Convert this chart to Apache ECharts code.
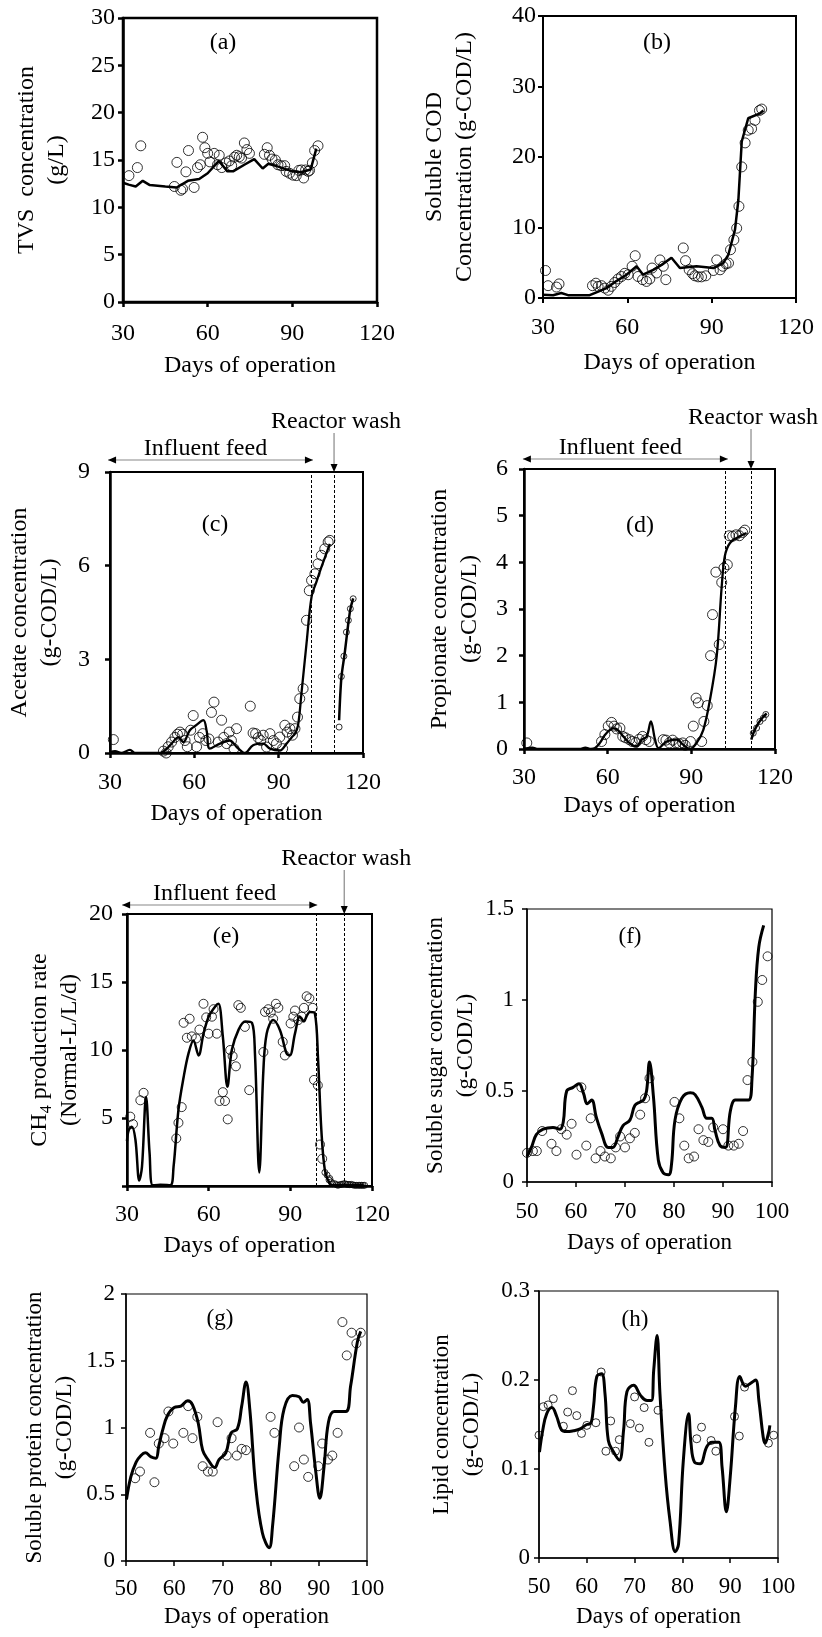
<!DOCTYPE html>
<html>
<head>
<meta charset="utf-8">
<script src="https://cdn.jsdelivr.net/npm/echarts@6/dist/echarts.min.js"></script>
<style>
html,body{margin:0;padding:0;background:#fff;}
#chart{width:822px;height:1637px;}
</style>
</head>
<body>
<div id="chart"></div>
<script>
// ---------------- DATA ----------------
// (a) TVS concentration (g/L)
const tvsModel = [[30,12.6],[32,12.4],[34.5,12.2],[37,12.8],[39.5,12.35],[45,12.2],[49,12.1],[53,12.8],[57,13.0],[60,13.6],[64,14.9],[67,13.8],[69,13.8],[73,14.5],[76.5,15.1],[79.5,14.1],[81.5,14.6],[85,14.3],[90,13.8],[93,13.7],[96.5,14.0],[98.5,16.2]];
const tvsObs = [[32.1,13.35],[35.1,14.2],[36.3,16.5],[48.2,12.2],[49.1,14.75],[50.5,11.8],[51.1,11.95],[52.3,13.75],[53.2,16.0],[55.2,12.1],[56.4,14.2],[57.4,14.5],[58.2,17.4],[59,16.3],[60,15.7],[60.8,14.8],[62.3,15.7],[63.5,14.5],[64.1,15.5],[65,14.2],[66.5,14.7],[67.7,14.9],[68.5,14.4],[69.5,15.3],[70.3,15.5],[71.2,15.35],[72,15.2],[73,16.8],[73.9,16.1],[74.8,15.7],[80.1,15.6],[81.1,16.3],[81.9,15.5],[82.8,15.1],[84,15.0],[84.9,14.5],[86,14.4],[87.3,14.4],[87.8,13.8],[89,13.6],[90.2,13.4],[91.4,13.35],[92.3,13.9],[93.2,13.95],[94,13.1],[94.7,13.95],[95.6,13.8],[96.1,13.9],[97.1,14.7],[97.9,16.0],[99.1,16.5]];

// (b) Soluble COD (g-COD/L)
const codModel = [[30,0.45],[33.6,0.4],[36.5,0.7],[38.9,0.4],[46.6,0.4],[49,0.8],[52.6,1.4],[56.1,2.4],[59.7,3.3],[63.3,4.5],[65.6,3.3],[69.2,4.0],[72.2,4.7],[75.7,5.7],[78.7,4.25],[84.6,4.5],[90.6,4.25],[94.1,4.95],[95.9,6.1],[98.3,9.7],[99.5,13.9],[100.7,22.2],[103,25.5],[107.2,26.2],[108.4,26.6]];
const codObs = [[30.9,3.9],[31.8,1.75],[34.8,1.55],[35.7,2.0],[47.6,1.75],[48.8,2.1],[49.6,1.65],[50.8,1.75],[52,1.4],[53.2,1.1],[54.3,1.65],[55.5,2.2],[56.7,2.7],[57.9,3.05],[59.1,3.5],[60.3,3.3],[61.7,4.5],[62.8,6.0],[63.8,3.05],[65.4,2.6],[66.8,2.35],[68,2.7],[68.8,4.25],[70.4,3.55],[71.6,5.4],[72.8,4.5],[73.7,2.6],[79.9,7.1],[80.7,5.3],[82,4.0],[83.2,3.45],[84,3.15],[85.2,3.0],[86.4,3.0],[87.9,3.15],[90.6,3.9],[91.8,5.4],[93,4.0],[94,4.5],[95.1,4.85],[96,4.95],[96.7,6.85],[97.9,8.25],[98.9,9.9],[99.7,13.0],[100.7,18.6],[101.9,22.0],[103,23.8],[104.2,24.0],[105.4,25.2],[107,26.6],[107.8,26.8]];

// (c) Acetate (g-COD/L)
const acetModelFeed = [[30,0.03],[31.8,0.06],[34,0],[37.1,0.1],[38.9,0],[47.8,0],[49.5,0.08],[51.9,0.3],[54.3,0.5],[56.1,0.35],[58.4,0.73],[60.8,0.9],[63.2,1.05],[64.4,0.7],[65.5,0.14],[69.1,0.3],[72.6,0.4],[75,0.2],[78,0],[80.9,0.25],[84.5,0.3],[86.9,0.14],[90.4,0.08],[92.8,0.3],[94.6,0.5],[95.8,0.62],[96.9,0.89],[98.1,1.9],[99.9,3.5],[101.7,5.0],[103.5,5.5],[105.2,5.95],[108.2,6.7]];
const acetModelWash = [[111.5,1.05],[112.3,2.4],[113.5,3.2],[114.7,4.1],[115.5,4.6],[116.5,4.95]];
const acetObsFeed = [[31.2,0.43],[49,0.06],[50,0],[50.7,0.2],[51.9,0.35],[53.1,0.5],[54,0.6],[54.9,0.67],[55.8,0.6],[56.7,0.4],[57.5,0.2],[58.7,0.73],[59.6,1.2],[60.8,0.2],[61.8,0.5],[63,0.62],[64.1,0.4],[65.2,0.45],[66.1,1.3],[67,1.63],[68.5,0.35],[69.7,1.05],[70.5,0.5],[71.5,0.3],[72.4,0.67],[73.2,0.4],[74.1,0.14],[75,0.78],[79.9,1.5],[80.9,0.64],[81.8,0.62],[82.7,0.49],[83.6,0.4],[84.5,0.57],[85.7,0.19],[86.9,0.62],[88.1,0.4],[89.2,0.3],[90.4,0.51],[91.4,0.14],[92.2,0.89],[93,0.67],[94,0.78],[94.9,0.57],[95.8,0.78],[96.7,1.15],[97.5,1.74],[98.7,2.06],[99.9,4.25],[100.9,5.2],[101.7,5.53],[102.9,5.74],[104,6.06],[105.2,6.33],[106.4,6.54],[107.6,6.76],[108.2,6.81]];
const acetObsWash = [[111.5,0.83],[112.3,2.45],[113.2,3.1],[114.1,3.87],[114.8,4.25],[115.5,4.62],[116.5,4.94]];

// (d) Propionate (g-COD/L)
const propModelFeed = [[30,0],[33,0.03],[35,0],[50,0],[52,0.03],[54,0],[55.5,0.02],[57.2,0.13],[59,0.3],[60.8,0.41],[62,0.44],[63.2,0.43],[65.6,0.27],[68.6,0.09],[70.4,0.06],[72.2,0.2],[74,0.27],[75.5,0.59],[77,0.2],[78.2,0.02],[81.1,0.16],[84.7,0.2],[87.1,0.09],[89.5,0],[91.9,0.13],[94.3,0.41],[96.7,1.06],[99.1,1.99],[100.9,3.49],[102,4.13],[103.8,4.41],[107.4,4.56],[109.8,4.63]];
const propModelWash = [[111.5,0.2],[112.5,0.38],[114,0.55],[115.5,0.67],[117,0.76]];
const propObsFeed = [[31,0.13],[57.8,0.16],[59,0.31],[60.2,0.49],[61.4,0.57],[62.3,0.49],[63.2,0.43],[64.4,0.45],[65.4,0.27],[66.4,0.24],[67.8,0.2],[68.8,0.16],[70.1,0.14],[71.3,0.21],[72.5,0.27],[73.7,0.2],[74.9,0.16],[79.9,0.2],[80.9,0.19],[82.1,0.13],[83.3,0.19],[84.5,0.13],[85.7,0.11],[86.9,0.13],[87.8,0.08],[89.7,0.16],[90.7,0.49],[91.7,1.09],[92.5,0.99],[93.7,0.16],[94.5,0.59],[95.7,0.93],[96.9,2.0],[97.6,2.88],[98.8,3.79],[100,2.24],[100.9,3.57],[101.7,3.88],[102.9,3.95],[103.6,4.57],[104.8,4.56],[106,4.59],[107.2,4.57],[108.4,4.64],[109.2,4.69]];
const propObsWash = [[112.2,0.34],[113.4,0.45],[114.6,0.59],[115.8,0.66],[116.7,0.74]];

// (e) CH4 production rate (Normal-L/L/d)
const ch4Model = [[30,3.3],[30.6,4.1],[31.8,4.35],[33.1,3.4],[34.5,0.4],[35.5,1.4],[37,6.55],[38.3,2.4],[39.5,0.05],[42.2,0.1],[45.9,0.05],[47.1,1.4],[48.9,5.6],[50.8,8.0],[52.6,9.75],[54.4,10.7],[56.3,9.6],[58.1,11.2],[60,12.45],[62.4,13.2],[63.6,13.4],[65.2,11],[66.9,7.3],[68.5,10],[71,11.5],[73.4,12.1],[75.9,12],[77,9.75],[78.6,1.0],[80.1,8.5],[81.3,11.2],[83.7,12.2],[86.2,11.45],[88.6,9.75],[89.8,9.6],[91.7,11.2],[93.5,12.45],[95,12.1],[96,12.5],[97.2,12.8],[99,12.7],[100.2,9.25],[101.4,4.1],[102.7,1.15],[104.5,0.15],[105.7,0.05],[117,0.05]];
const ch4Obs = [[31.2,5.1],[32.2,4.55],[34.9,6.3],[36.1,6.85],[48.1,3.5],[48.9,4.65],[50.1,5.8],[50.8,12.0],[52,10.9],[53,12.3],[53.8,11.0],[55.4,10.85],[56.6,11.5],[58.1,13.4],[59.1,12.4],[60,11.2],[61.2,12.45],[61.8,13.0],[63,11.2],[64,6.25],[65.2,6.9],[66,6.25],[67,4.9],[67.9,10],[68.8,9.55],[70,8.8],[70.9,13.3],[71.8,13.1],[73.3,11.7],[74.9,7.05],[80.1,9.85],[80.7,12.8],[81.9,13.0],[82.8,12.75],[83.7,12.3],[84.7,13.4],[85.6,13.1],[87.2,10.6],[88,9.6],[90.1,11.95],[91.1,12.45],[91.7,12.9],[92.9,12.2],[94.2,12.45],[95,13.1],[96,13.95],[97,13.8],[98.2,13.1],[98.7,7.8],[100.1,7.4],[100.9,3.05],[101.7,2.0]];
const ch4ObsWash = [[102.7,1.0],[103.5,0.8],[104.2,0.45],[104.5,0.55],[105,0.3],[105.5,0.17],[106.3,0.17],[107,0.1],[107.5,0.05],[108.2,0.1],[108.8,0.12],[109.4,0.15],[110,0.17],[110.6,0.12],[111.2,0.12],[111.8,0.1],[112.4,0.12],[113,0.08],[113.6,0.05],[114.2,0.05],[114.9,0.05],[115.5,0.05],[116.1,0.05],[116.7,0.05],[117.3,0.05]];

// (f) Soluble sugar (g-COD/L)
const sugarModel = [[50,0.14],[50.9,0.19],[51.9,0.26],[53.3,0.29],[55.3,0.3],[56.7,0.29],[57.4,0.33],[58.1,0.5],[59.4,0.52],[60.6,0.54],[61.5,0.49],[62.3,0.43],[63.2,0.45],[64.1,0.36],[65.2,0.27],[66.6,0.19],[67.5,0.19],[68.6,0.25],[69.6,0.31],[71,0.34],[72,0.42],[73.1,0.44],[73.8,0.45],[74.4,0.5],[75,0.66],[75.8,0.47],[76.8,0.12],[77.8,0.05],[78.9,0.04],[79.5,0.1],[80.2,0.34],[81.6,0.46],[83.3,0.49],[84.3,0.48],[85.7,0.41],[86.7,0.35],[87.7,0.35],[88.4,0.28],[89.4,0.2],[90.5,0.19],[91.5,0.39],[92.5,0.45],[93.5,0.45],[95.2,0.45],[95.9,0.56],[96.6,1.04],[97.3,1.29],[98.3,1.41]];
const sugarObs = [[50,0.16],[51.2,0.17],[52,0.17],[53.1,0.28],[55,0.21],[56,0.17],[57,0.29],[58.1,0.26],[59.1,0.32],[60.1,0.15],[61.1,0.52],[62.1,0.2],[63,0.35],[64,0.13],[65,0.17],[65.9,0.14],[67.1,0.13],[68.1,0.19],[69,0.25],[70,0.19],[71,0.24],[72,0.27],[73.1,0.37],[74.1,0.46],[75,0.57],[80.1,0.44],[81.1,0.35],[82.1,0.2],[83,0.13],[84.1,0.14],[85,0.29],[86,0.23],[87,0.22],[88,0.3],[90,0.29],[91.1,0.2],[92.2,0.2],[93.2,0.21],[94.1,0.28],[95,0.56],[96,0.66],[97.1,0.99],[98,1.11],[99.1,1.24]];

// (g) Soluble protein (g-COD/L)
const proteinModel = [[50.1,0.46],[51,0.63],[52.1,0.74],[53.1,0.79],[54,0.81],[55.2,0.78],[56.2,0.77],[56.8,0.86],[57.6,0.98],[58.6,1.09],[60,1.15],[61.4,1.16],[62.8,1.2],[63.8,1.17],[65,1.03],[65.9,0.83],[67,0.76],[68.4,0.7],[69.3,0.76],[70.7,0.81],[71.8,0.96],[73.1,0.99],[74,1.16],[74.9,1.34],[75.7,1.13],[76.9,0.56],[78.3,0.21],[79.7,0.1],[80.4,0.26],[81.8,0.86],[82.8,1.14],[84.5,1.24],[85.9,1.23],[86.8,1.19],[87.6,1.21],[88.3,1.03],[89.4,0.66],[90.2,0.47],[91.1,0.71],[92,1.04],[93.2,1.12],[95.6,1.12],[96.6,1.31],[98,1.64],[98.7,1.72]];
const proteinObs = [[51.9,0.62],[52.9,0.67],[55,0.96],[55.9,0.59],[56.8,0.88],[58,0.92],[58.8,1.12],[59.8,0.88],[61.9,0.96],[62.9,1.16],[63.8,0.92],[64.8,1.08],[65.9,0.71],[67,0.67],[68,0.67],[69,1.04],[70.9,0.79],[71.9,0.92],[73,0.79],[74,0.84],[74.9,0.83],[80,1.08],[80.8,0.96],[84.9,0.71],[85.9,1.0],[86.9,0.76],[87.8,0.63],[89.9,0.71],[90.7,0.88],[91.9,0.76],[92.8,0.79],[93.9,0.96],[94.9,1.79],[95.8,1.54],[96.8,1.71],[97.8,1.63],[98.7,1.71]];

// (h) Lipid (g-COD/L)
const lipidModel = [[50.1,0.119],[50.8,0.144],[51.6,0.162],[52.7,0.169],[53.7,0.159],[54.7,0.144],[55.8,0.142],[57.2,0.143],[58.6,0.145],[60,0.15],[60.8,0.151],[61.4,0.17],[62.1,0.204],[63.1,0.207],[63.8,0.185],[64.5,0.132],[65.6,0.119],[66.8,0.11],[67.7,0.144],[68.4,0.187],[69.8,0.194],[71.2,0.183],[72.6,0.177],[73.5,0.177],[74,0.211],[74.7,0.25],[75.3,0.185],[76.4,0.095],[77.4,0.042],[78.5,0.007],[79.2,0.016],[80.2,0.11],[81.3,0.162],[81.8,0.129],[82.5,0.108],[83.7,0.106],[85.1,0.125],[86.2,0.13],[87.6,0.13],[88.3,0.102],[89.2,0.052],[90,0.091],[91.1,0.17],[92,0.204],[93.2,0.193],[94.2,0.196],[95.3,0.2],[96,0.177],[96.9,0.136],[97.3,0.129],[98,0.14],[98.3,0.149]];
const lipidObs = [[50,0.138],[50.9,0.17],[51.9,0.172],[53,0.179],[55.1,0.148],[56,0.164],[57,0.188],[57.9,0.16],[58.9,0.14],[60,0.149],[61.9,0.152],[63,0.209],[64,0.12],[65,0.154],[66,0.12],[66.8,0.133],[69.1,0.151],[70,0.181],[71,0.146],[72,0.169],[73,0.13],[74.9,0.166],[83,0.134],[84,0.147],[86,0.132],[87,0.12],[90.9,0.159],[91.9,0.137],[93,0.192],[98,0.129],[99.1,0.138]];

// Axis ranges and tick labels
const xRangeLong = [30, 120, 30];
const xRangeShort = [50, 100, 10];
const yRanges = [[0,30,5],[0,40,10],[0,9,3],[0,6,1],[0,20,5],[0,1.5,0.5],[0,2,0.5],[0,0.3,0.1]];
const yTitles = [
  'TVS  concentration\n(g/L)',
  'Soluble COD\nConcentration (g-COD/L)',
  'Acetate concentration\n(g-COD/L)',
  'Propionate concentration\n(g-COD/L)',
  '{t|CH}{s|4}{t| production rate}\n{t|(Normal-L/L/d)}',
  'Soluble sugar concentration\n(g-COD/L)',
  'Soluble protein concentration\n(g-COD/L)',
  'Lipid concentration\n(g-COD/L)'
];
const xTitle = 'Days of operation';
const panelLetters = ['(a)','(b)','(c)','(d)','(e)','(f)','(g)','(h)'];
// Operation periods (days) for panels c, d, e
const feedPeriodC = [29.3, 102.2], washLinesC = [101.5, 109.7];
const feedPeriodD = [29.6, 103.1], washLinesD = [102.1, 111.4];
const feedPeriodE = [28.2, 99.9],  washLinesE = [99.5, 109.8];

// ---------------- LAYOUT ----------------
const FONT = 'Liberation Serif';
const L = [
  {grid:{left:123,top:18,width:254,height:284}, x:xRangeLong, fs:24, axW:2.5, bw:2.5, xm:20, ym:8,  xg:52, yg:51, lx:223, ly:43},
  {grid:{left:543,top:16,width:253,height:282}, x:xRangeLong, fs:24, axW:2,   bw:2,   xm:18, ym:7,  xg:53, yg:63, lx:657, ly:43},
  {grid:{left:110,top:472,width:253,height:281},x:xRangeLong, fs:24, axW:2.5, bw:2,   xm:18, ym:20, xg:49, yg:45, lx:215, ly:525},
  {grid:{left:524,top:469,width:251,height:280},x:xRangeLong, fs:24, axW:2.5, bw:2,   xm:17, ym:16, xg:45, yg:39, lx:640, ly:526},
  {grid:{left:127,top:914,width:245,height:272},x:xRangeLong, fs:24, axW:2.5, bw:2,   xm:17, ym:14, xg:48, yg:40, lx:226, ly:937},
  {grid:{left:527,top:909,width:245,height:273},x:xRangeShort,fs:23, axW:1.5, bw:1.2, xm:18, ym:13, xg:49, yg:42, lx:630, ly:937},
  {grid:{left:126,top:1294,width:241,height:267},x:xRangeShort,fs:23,axW:1.5, bw:1.2, xm:16, ym:11, xg:44, yg:46, lx:220, ly:1319},
  {grid:{left:539,top:1291,width:239,height:267},x:xRangeShort,fs:23,axW:1.5, bw:1.2, xm:17, ym:9,  xg:47, yg:52, lx:635, ly:1320}
];

const grids = [], xAxes = [], yAxes = [], series = [], graphics = [];
L.forEach((p, i) => {
  grids.push(Object.assign({show:true, borderColor:'#000', borderWidth:p.bw, backgroundColor:'transparent'}, p.grid));
  const lab = {color:'#000', fontFamily:FONT, fontSize:p.fs};
  xAxes.push({
    type:'value', gridIndex:i, min:p.x[0], max:p.x[1], interval:p.x[2],
    axisLine:{onZero:false, lineStyle:{color:'#000', width:p.axW}},
    axisTick:{length:5, lineStyle:{color:'#000', width:p.axW}},
    axisLabel:Object.assign({margin:p.xm}, lab),
    splitLine:{show:false},
    name:xTitle, nameLocation:'middle', nameGap:p.xg,
    nameTextStyle:Object.assign({}, lab)
  });
  const yr = yRanges[i];
  yAxes.push({
    type:'value', gridIndex:i, min:yr[0], max:yr[1], interval:yr[2],
    axisLine:{onZero:false, lineStyle:{color:'#000', width:p.axW}},
    axisTick:{length:5, lineStyle:{color:'#000', width:p.axW}},
    axisLabel:Object.assign({margin:p.ym, formatter: v => (i===4 && v===0) ? '' : String(+v.toFixed(2))}, lab),
    splitLine:{show:false},
    name:yTitles[i], nameLocation:'middle', nameRotate:90, nameGap:p.yg,
    nameTextStyle:Object.assign({lineHeight:30, align:'center',
      rich:{t:{fontFamily:FONT, fontSize:p.fs, lineHeight:30, color:'#000'},
            s:{fontFamily:FONT, fontSize:16, lineHeight:16, verticalAlign:'bottom', color:'#000'}}}, lab)
  });
  graphics.push({type:'text', x:p.lx, y:p.ly, style:{text:panelLetters[i], font:p.fs + 'px "' + FONT + '"', fill:'#000', textAlign:'center', textVerticalAlign:'middle'}});
});

function line(gi, data, w, smooth, extra){
  return Object.assign({type:'line', xAxisIndex:gi, yAxisIndex:gi, data:data, symbol:'none', showSymbol:false,
    smooth:smooth, lineStyle:{color:'#000', width:w}, z:3, silent:true}, extra || {});
}
function dots(gi, data, size){
  return {type:'scatter', xAxisIndex:gi, yAxisIndex:gi, data:data, symbol:'circle', symbolSize:size,
    itemStyle:{color:'rgba(0,0,0,0)', borderColor:'#000', borderWidth:1}, z:2, silent:true};
}
function dashes(vals){
  return {markLine:{silent:true, symbol:'none', label:{show:false},
    lineStyle:{color:'#000', width:1, type:[3,2]}, data:vals.map(v => ({xAxis:v}))}};
}

series.push(dots(0, tvsObs, 10), line(0, tvsModel, 2.5, false));
series.push(dots(1, codObs, 10), line(1, codModel, 2.5, false));
series.push(dots(2, acetObsFeed, 10), dots(2, acetObsWash, 6),
  line(2, acetModelFeed, 2.3, 0.35, dashes(washLinesC)), line(2, acetModelWash, 2.5, 0.3));
series.push(dots(3, propObsFeed, 10), dots(3, propObsWash, 6),
  line(3, propModelFeed, 2.3, 0.35, dashes(washLinesD)), line(3, propModelWash, 2.5, 0.3));
series.push(dots(4, ch4Obs, 9), dots(4, ch4ObsWash, 6),
  line(4, ch4Model, 2.5, 0.35, dashes(washLinesE)));
series.push(dots(5, sugarObs, 9), line(5, sugarModel, 3, 0.4));
series.push(dots(6, proteinObs, 9), line(6, proteinModel, 3, 0.4));
series.push(dots(7, lipidObs, 8), line(7, lipidModel, 3, 0.4));

const chart = echarts.init(document.getElementById('chart'), null, {renderer:'canvas'});
chart.setOption({
  animation:false, backgroundColor:'#fff',
  grid:grids, xAxis:xAxes, yAxis:yAxes, series:series, graphic:graphics
});

// Annotations: "Influent feed" double arrow and "Reactor wash" arrow, placed through the axes' scales
const annots = [
  {gi:2, feed:feedPeriodC, wash:washLinesC[1], arrowUp:12, washText:50},
  {gi:3, feed:feedPeriodD, wash:washLinesD[1], arrowUp:10, washText:51},
  {gi:4, feed:feedPeriodE, wash:washLinesE[1], arrowUp:9,  washText:55}
];
const extra = graphics.slice();
function head(tx, ty, dx, dy){ // filled triangle, tip at (tx,ty), pointing along (dx,dy)
  const len = 8, half = 3.5, px = -dy, py = dx;
  return {type:'polygon', shape:{points:[[tx,ty],[tx-dx*len+px*half, ty-dy*len+py*half],[tx-dx*len-px*half, ty-dy*len-py*half]]}, style:{fill:'#000'}, z:10};
}
annots.forEach(a => {
  const yMax = yRanges[a.gi][1];
  const top = chart.convertToPixel({gridIndex:a.gi}, [L[a.gi].x[0], yMax])[1];
  const x0 = chart.convertToPixel({gridIndex:a.gi}, [a.feed[0], yMax])[0];
  const x1 = chart.convertToPixel({gridIndex:a.gi}, [a.feed[1], yMax])[0];
  const ya = top - a.arrowUp;
  extra.push({type:'line', shape:{x1:x0, y1:ya, x2:x1, y2:ya}, style:{stroke:'#888', lineWidth:1.2}, z:9});
  extra.push(head(x0, ya, -1, 0), head(x1, ya, 1, 0));
  extra.push({type:'text', x:(x0+x1)/2 - 5, y:ya - 11, style:{text:'Influent feed', font:'24px "' + FONT + '"', fill:'#000', textAlign:'center', textVerticalAlign:'middle'}});
  const xw = chart.convertToPixel({gridIndex:a.gi}, [a.wash, yMax])[0];
  const yt = top - a.washText;
  extra.push({type:'text', x:xw + 2, y:yt, style:{text:'Reactor wash', font:'24px "' + FONT + '"', fill:'#000', textAlign:'center', textVerticalAlign:'middle'}});
  extra.push({type:'line', shape:{x1:xw, y1:yt + 11, x2:xw, y2:top - 2}, style:{stroke:'#888', lineWidth:1.2}, z:9});
  extra.push(head(xw, top, 0, 1));
});
chart.setOption({graphic:extra});
</script>
</body>
</html>
